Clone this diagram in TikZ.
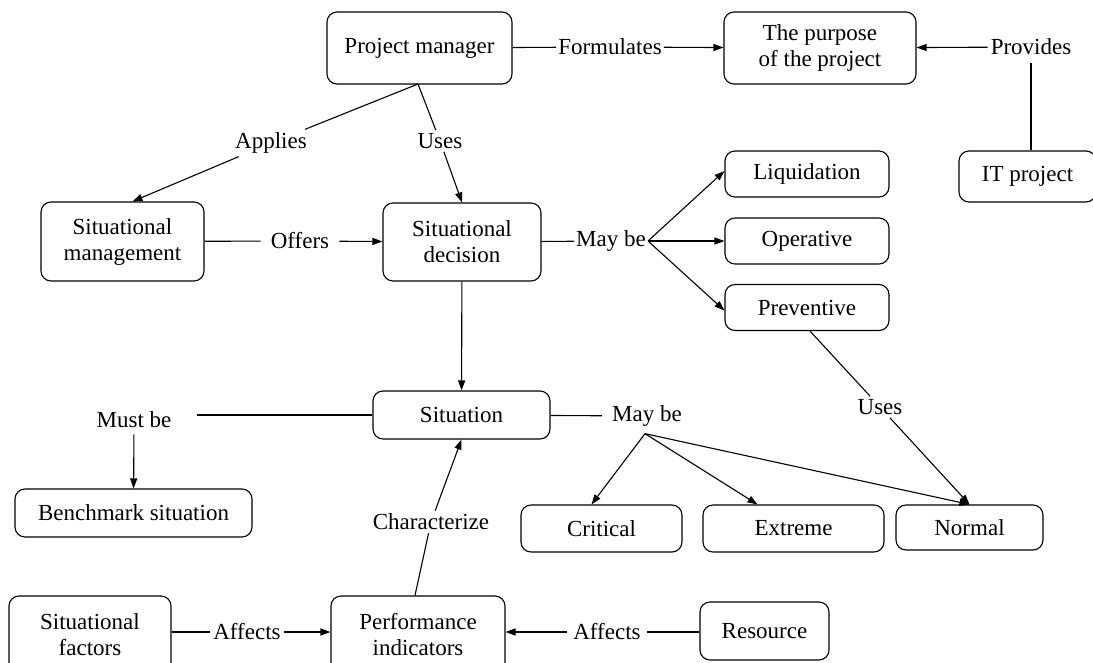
\documentclass[tikz,border=0pt]{standalone}
\usepackage{fontspec}
\setmainfont{Liberation Serif}
\usetikzlibrary{arrows.meta}
\begin{document}
\begin{tikzpicture}[x=1pt,y=-1pt,
  every node/.style={font=\fontsize{23}{26}\selectfont},
  box/.style={draw, rounded corners=10pt, line width=1.1pt, inner sep=0pt, align=center},
  lbl/.style={inner sep=3pt, align=center},
  ln/.style={line width=1.1pt},
  arr/.style={line width=1.1pt, -{Triangle[length=10pt,width=7pt]}}]
\useasboundingbox (0,0) rectangle (1093,662);
% boxes
\node[box, minimum width=185pt, minimum height=72pt] (pm) at (419.5,48) {Project manager};
\node[box, minimum width=192pt, minimum height=72pt] (pur) at (820,48) {The purpose\\of the project};
\node[box, minimum width=137pt, minimum height=51pt] (it) at (1027.5,176.5) {IT project};
\node[box, minimum width=163pt, minimum height=79pt] (sm) at (122.5,241.5) {Situational\\management};
\node[box, minimum width=158pt, minimum height=78pt] (sd) at (462,242) {Situational\\decision};
\node[box, minimum width=164pt, minimum height=46pt] (liq) at (807,174) {Liquidation};
\node[box, minimum width=164pt, minimum height=46pt] (op) at (807,241) {Operative};
\node[box, minimum width=164pt, minimum height=46pt] (pre) at (807,307.5) {Preventive};
\node[box, minimum width=177pt, minimum height=48pt] (sit) at (461.5,415) {Situation};
\node[box, minimum width=237pt, minimum height=48pt] (ben) at (133.5,513) {Benchmark situation};
\node[box, minimum width=161pt, minimum height=47pt] (cri) at (601.5,528.5) {Critical};
\node[box, minimum width=181pt, minimum height=47pt] (ext) at (793.5,528.5) {Extreme};
\node[box, minimum width=147pt, minimum height=45pt] (nor) at (969.5,527.5) {Normal};
\node[box, minimum width=162pt, minimum height=77pt] (sf) at (90,634.5) {Situational\\factors};
\node[box, minimum width=174pt, minimum height=77pt] (pi) at (418,634.5) {Performance\\indicators};
\node[box, minimum width=129pt, minimum height=58pt] (res) at (764.5,631) {Resource};
% labels
\node[lbl, inner xsep=2pt] (form) at (610,47) {Formulates};
\node[lbl, inner ysep=8pt] (prov) at (1031,47) {Provides};
\node[lbl] (appl) at (271,143) {Applies};
\node[lbl] (uses1) at (440,141) {Uses};
\node[lbl, inner xsep=10pt] (offe) at (300,241) {Offers};
\node[lbl, inner xsep=2pt] (may1) at (611,241) {May be};
\node[lbl, inner ysep=6pt] (must) at (134,420) {Must be};
\node[lbl, inner xsep=10pt] (may2) at (647,416) {May be};
\node[lbl] (uses2) at (880,407) {Uses};
\node[lbl] (char) at (431,522) {Characterize};
\node[lbl] (aff1) at (247,632) {Affects};
\node[lbl, inner xsep=6pt] (aff2) at (607,632) {Affects};
\coordinate (pmb) at (418,84);
% connectors
\draw[ln] (pm) -- (form);
\draw[arr] (form) -- (pur);
\draw[arr] (prov) -- (pur);
\draw[ln] (prov.south) -- (prov.south |- it.north);
\draw[ln] (pmb) -- (appl);
\draw[arr] (appl) -- ([xshift=10pt]sm.north);
\draw[ln] (pmb) -- (uses1);
\draw[arr] (uses1) -- (sd.north);
\draw[ln] (sm) -- (offe);
\draw[arr] (offe) -- (sd);
\draw[ln] (sd) -- (may1);
\draw[arr] (may1.east) -- ([yshift=3pt]liq.west);
\draw[arr] (may1.east) -- (op.west);
\draw[arr] (may1.east) -- ([yshift=-3pt]pre.west);
\draw[arr] (sd) -- (sit);
\draw[ln] (sit.west) -- ([xshift=22pt]must.east |- sit.west);
\draw[arr] (must) -- (ben);
\draw[ln] (sit) -- (may2);
\draw[arr] ([xshift=-2pt,yshift=-4pt]may2.south) -- ([xshift=-10pt]cri.north);
\draw[arr] ([xshift=-2pt,yshift=-4pt]may2.south) -- ([xshift=-36pt]ext.north);
\draw[arr] ([xshift=-2pt,yshift=-4pt]may2.south) -- (nor.north);
\draw[ln] ([xshift=3pt]pre.south) -- (uses2);
\draw[arr] (uses2) -- (nor.north);
\draw[ln] ([xshift=-3pt]pi.north) -- (char);
\draw[arr] (char) -- (sit.south);
\draw[ln] (sf.east |- aff1) -- (aff1);
\draw[arr] (aff1) -- (pi.west |- aff1);
\draw[ln] (res.west |- aff2) -- (aff2);
\draw[arr] (aff2) -- (pi.east |- aff2);
\end{tikzpicture}
\end{document}
